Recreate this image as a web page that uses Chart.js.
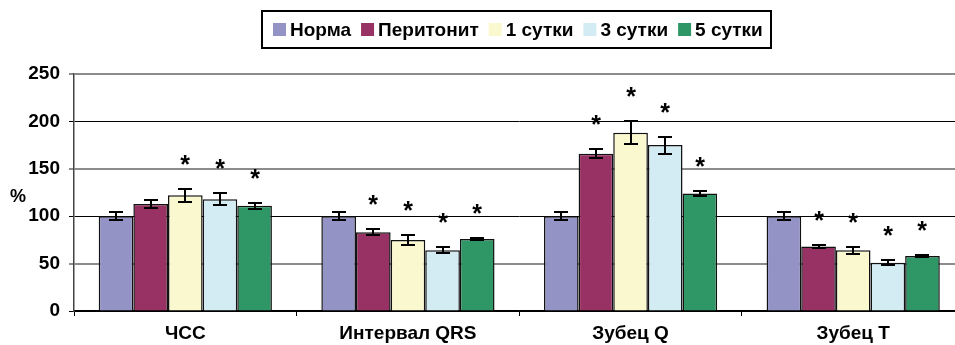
<!DOCTYPE html>
<html>
<head>
<meta charset="utf-8">
<script src="https://cdn.jsdelivr.net/npm/chart.js@4/dist/chart.umd.min.js"></script>
<style>
  html, body { margin: 0; padding: 0; background: #fff; overflow: hidden; }
  #wrap { position: absolute; left: 0; top: 0; width: 966px; height: 345px; }
</style>
</head>
<body>
<div id="wrap"><canvas id="c" width="966" height="345"></canvas></div>
<script>
// Categories (ECG parameters) and group names
const categories = ['ЧСС', 'Интервал QRS', 'Зубец Q', 'Зубец Т'];
const seriesNames = ['Норма', 'Перитонит', '1 сутки', '3 сутки', '5 сутки'];

// Mean values, % of norm
const normaValues      = [100, 100, 100, 100];
const peritonitValues  = [113,  83, 166,  68];
const day1Values       = [122,  75, 188,  64];
const day3Values       = [118,  64, 175,  51];
const day5Values       = [111,  76, 124,  58];

// Standard errors
const normaErr      = [4,   4,   4,   4];
const peritonitErr  = [4,   3,   5,   1.5];
const day1Err       = [6.5, 5,  12,   4];
const day3Err       = [6,   3,   9,   3];
const day5Err       = [3,   1.2, 3,   1.2];

// Significant difference from norm (marked with *)
const normaSig      = [false, false, false, false];
const peritonitSig  = [false, true,  true,  true];
const day1Sig       = [true,  true,  true,  true];
const day3Sig       = [true,  true,  true,  true];
const day5Sig       = [true,  true,  true,  true];

// Y axis tick values
const yTicks = [0, 50, 100, 150, 200, 250];

const seriesValues = [normaValues, peritonitValues, day1Values, day3Values, day5Values];
const seriesErr = [normaErr, peritonitErr, day1Err, day3Err, day5Err];
const seriesSig = [normaSig, peritonitSig, day1Sig, day3Sig, day5Sig];
const colors = ['#9393C6', '#993264', '#FAF8CF', '#D3ECF3', '#2F9765'];

const FONT = '"Liberation Sans", Arial, sans-serif';

// Error bars and significance asterisks
const errorBars = {
  id: 'errorBars',
  afterDatasetsDraw(chart) {
    const ctx = chart.ctx;
    const y = chart.scales.y;
    ctx.save();
    ctx.strokeStyle = '#000';
    ctx.lineWidth = 2;
    ctx.font = 'bold 25px ' + FONT;
    ctx.fillStyle = '#000';
    ctx.textAlign = 'center';
    ctx.textBaseline = 'alphabetic';
    const m = ctx.measureText('*');
    const starMid = (m.actualBoundingBoxAscent - m.actualBoundingBoxDescent) / 2;
    chart.data.datasets.forEach((ds, i) => {
      const meta = chart.getDatasetMeta(i);
      meta.data.forEach((bar, j) => {
        const v = ds.data[j], e = seriesErr[i][j];
        const yt = Math.round(y.getPixelForValue(v + e));
        const yb = Math.round(y.getPixelForValue(v - e));
        const x = Math.round(bar.x);
        ctx.beginPath();
        ctx.moveTo(x, yt); ctx.lineTo(x, yb);
        ctx.moveTo(x - 7, yt); ctx.lineTo(x + 7, yt);
        ctx.moveTo(x - 7, yb); ctx.lineTo(x + 7, yb);
        ctx.stroke();
        if (seriesSig[i][j]) {
          ctx.fillText('*', x, yt - 29 + starMid);
        }
      });
    });
    ctx.restore();
  }
};

// Framed legend across the top and the "%" axis caption
const framedLegend = {
  id: 'framedLegend',
  afterDraw(chart) {
    const ctx = chart.ctx;
    ctx.save();
    ctx.font = 'bold 19px ' + FONT;
    const sq = 13, gapText = 4, gapItem = 10, padL = 11, padR = 8;
    const widths = seriesNames.map(n => ctx.measureText(n).width);
    let total = padL + padR + gapItem * (seriesNames.length - 1);
    widths.forEach(w => { total += sq + gapText + w; });
    const top = 11, h = 37, cx = 516.5;
    const x0 = Math.round(cx - total / 2);
    ctx.strokeStyle = '#000';
    ctx.lineWidth = 2;
    ctx.strokeRect(x0, top, Math.round(total), h);
    const midY = top + h / 2;
    let x = x0 + padL;
    ctx.textBaseline = 'middle';
    ctx.textAlign = 'left';
    seriesNames.forEach((n, i) => {
      ctx.fillStyle = colors[i];
      ctx.fillRect(x, Math.round(midY - sq / 2), sq, sq);
      x += sq + gapText;
      ctx.fillStyle = '#000';
      ctx.fillText(n, x, midY + 1);
      x += widths[i] + gapItem;
    });
    // axis caption
    ctx.font = 'bold 18px ' + FONT;
    ctx.textAlign = 'center';
    ctx.fillText('%', 18, 197);
    ctx.restore();
  }
};

const gridColor = c => (c.tick && c.tick.value % 100 === 0) ? '#000' : '#8c8c8c';
const gridWidth = c => (c.tick && c.tick.value % 100 === 0) ? 1 : 2;

new Chart(document.getElementById('c'), {
  type: 'bar',
  data: {
    labels: categories,
    datasets: seriesNames.map((n, i) => ({
      label: n,
      data: seriesValues[i],
      backgroundColor: colors[i],
      borderColor: '#111',
      borderWidth: 1.5,
      borderSkipped: 'start',
      barPercentage: 1.0,
      categoryPercentage: 0.778
    }))
  },
  options: {
    responsive: false,
    animation: false,
    devicePixelRatio: 1,
    layout: { padding: { left: 0, top: 74, right: 1.5, bottom: 0 } },
    plugins: { legend: { display: false }, tooltip: { enabled: false } },
    scales: {
      x: {
        offset: true,
        grid: {
          display: true, drawOnChartArea: false, drawTicks: true,
          tickLength: 5, offset: true, color: '#000', lineWidth: 1
        },
        border: { display: true, color: '#000', width: 1.5 },
        ticks: { color: '#000', font: { family: FONT, size: 19, weight: 'bold' }, padding: 6, maxRotation: 0 },
        afterFit(s) { s.height = 34; }
      },
      y: {
        min: 0, max: 250,
        afterBuildTicks(s) { s.ticks = yTicks.map(v => ({ value: v })); },
        grid: { color: gridColor, lineWidth: gridWidth, tickLength: 5, drawTicks: true },
        border: { display: true, color: '#444', width: 1.5 },
        ticks: { color: '#000', font: { family: FONT, size: 19, weight: 'bold' }, padding: 9 },
        afterFit(s) { s.width = 74; }
      }
    }
  },
  plugins: [errorBars, framedLegend]
});
</script>
</body>
</html>
